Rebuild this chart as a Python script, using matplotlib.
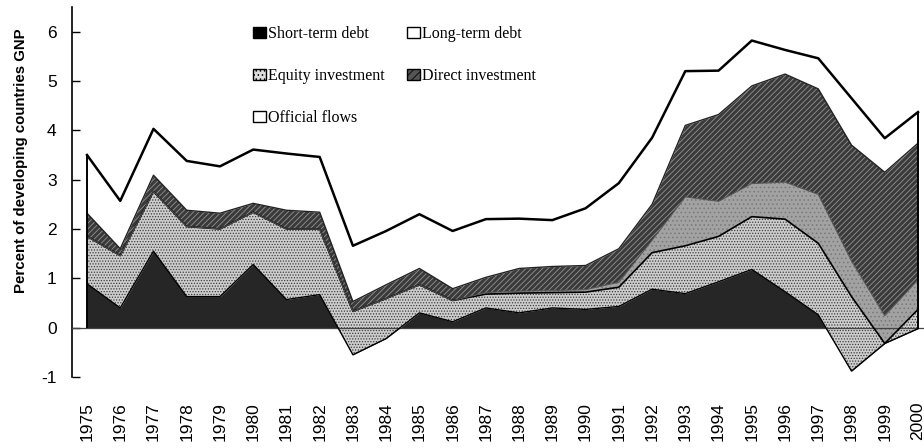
import numpy as np
import matplotlib; matplotlib.use("Agg"); import matplotlib.pyplot as plt
from matplotlib.patches import Patch

years = list(range(1975, 2001))
# net flows, percent of developing countries GNP (stacked in this order)
short_term = [0.89, 0.40, 1.55, 0.63, 0.63, 1.28, 0.57, 0.67, -0.55, -0.22, 0.30, 0.12, 0.40,
              0.30, 0.40, 0.37, 0.43, 0.78, 0.69, 0.93, 1.18, 0.73, 0.26, -0.88, -0.32, -0.02]
long_term = [0.96, 1.06, 1.21, 1.42, 1.37, 1.06, 1.43, 1.33, 0.88, 0.81, 0.57, 0.43, 0.28,
             0.40, 0.31, 0.35, 0.39, 0.74, 0.97, 0.92, 1.07, 1.47, 1.45, 1.51, 0.00, 0.39]
equity = [0.00, 0.00, 0.00, 0.00, 0.00, 0.00, 0.00, 0.00, 0.00, 0.00, 0.00, 0.00, 0.03,
          0.04, 0.04, 0.05, 0.10, 0.25, 0.99, 0.71, 0.67, 0.75, 0.99, 0.72, 0.56, 0.60]
direct = [0.47, 0.14, 0.33, 0.33, 0.32, 0.18, 0.38, 0.34, 0.20, 0.28, 0.33, 0.24, 0.31,
          0.46, 0.49, 0.49, 0.68, 0.73, 1.45, 1.76, 1.98, 2.19, 2.14, 2.35, 2.91, 2.77]
official = [1.18, 0.97, 0.94, 1.00, 0.95, 1.09, 1.15, 1.12, 1.13, 1.09, 1.10, 1.17, 1.18,
            1.01, 0.94, 1.16, 1.33, 1.35, 1.10, 0.89, 0.92, 0.49, 0.62, 0.95, 0.69, 0.63]
labels = ["Short-term debt", "Long-term debt", "Equity investment", "Direct investment", "Official flows"]

plt.rcParams["hatch.linewidth"] = 0.6
plt.rcParams["axes.unicode_minus"] = False
SANS = ["Liberation Sans", "DejaVu Sans"]
SERIF = ["Liberation Serif", "DejaVu Serif"]

x = np.array(years)
cum = np.cumsum(np.array([short_term, long_term, equity, direct, official]), axis=0)
base = np.vstack([np.zeros(len(x)), cum[:-1]])

fig = plt.figure(figsize=(9.24, 4.48), dpi=100)
ax = fig.add_axes([72/924, 1-377/448, 1-72/924, 370/448])

# Excel-style stacking: each layer spans previous cum -> its cum, later ones paint over
styles = [dict(facecolor="#262626", hatch=None, edgecolor="#262626"),
          dict(facecolor="#cdcdcd", hatch="......", edgecolor="#3c3c3c"),
          dict(facecolor="#a2a2a2", hatch="....", edgecolor="#787878"),
          dict(facecolor="#3a3a3a", hatch="//////", edgecolor="#939393"),
          dict(facecolor="white", hatch=None, edgecolor="white")]
for i, st in enumerate(styles):
    ax.fill_between(x, base[i], cum[i], linewidth=0, **st)

ax.axhline(0, color="#444444", lw=0.9, zorder=3)
ax.plot(x, cum[0], color="black", lw=1.0, zorder=4)
ax.plot(x, cum[1], color="black", lw=1.2, zorder=4)
ax.plot(x, cum[2], color="#555555", lw=0.7, zorder=4)
ax.plot(x, cum[3], color="#222222", lw=1.0, zorder=4)
ax.plot(x, cum[4], color="black", lw=1.8, zorder=5)
ax.vlines([x[0], x[-1]], [min(0, cum[0][0]), min(0, cum[0][-1])], [cum[4][0], cum[4][-1]],
          color="black", lw=1.4, zorder=5)

ax.set_xlim(1975 - 15/33.24, 2000 + 6/33.24)
ax.set_ylim(-1, 6.5)
ax.set_yticks(range(-1, 7))
ax.set_xticks(years)
ax.set_xticklabels([str(y) for y in years], rotation=90, family=SANS, fontsize=12.5)
ax.tick_params(axis="x", length=0, pad=18)
ax.tick_params(axis="y", direction="in", length=6, width=1, pad=11, labelsize=12.5)
for t in ax.get_yticklabels(): t.set_family(SANS)
for s in ("top", "right", "bottom"): ax.spines[s].set_visible(False)
ax.spines["left"].set_linewidth(1.2)
ax.set_ylabel("Percent of developing countries GNP", family=SANS, fontsize=10.8, fontweight="bold")
ax.yaxis.set_label_coords(-0.052, 0.584)

handles = [Patch(facecolor="black", edgecolor="black"),
           Patch(facecolor="#dddddd", edgecolor="black", hatch="...."),
           Patch(facecolor="white", edgecolor="black"),
           Patch(facecolor="white", edgecolor="black"),
           Patch(facecolor="#555555", edgecolor="black", hatch="////")]
order = [labels[0], labels[2], labels[4], labels[1], labels[3]]
fig.legend(handles, order, ncol=2, loc="upper left", bbox_to_anchor=(253/924, 1-26/448),
           frameon=False, prop={"family": SERIF, "size": 11.5}, handlelength=0.8, handleheight=0.65,
           handletextpad=0.15, columnspacing=1.4, labelspacing=1.64, borderpad=0, borderaxespad=0)

fig.savefig("out.png", dpi=100)
